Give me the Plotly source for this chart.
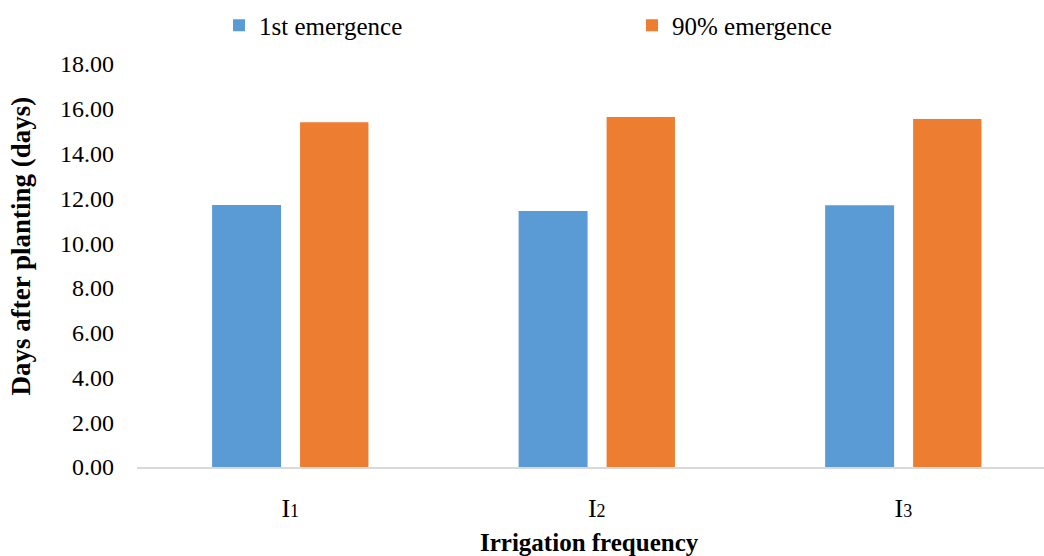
import plotly.graph_objects as go

# Emergence timing per irrigation frequency
categories = ["I1", "I2", "I3"]
tick_text = [
    "I<span style='font-size:18px'>1</span>",
    "I<span style='font-size:18px'>2</span>",
    "I<span style='font-size:18px'>3</span>",
]
first_emergence = [11.70, 11.43, 11.69]
ninety_emergence = [15.40, 15.63, 15.54]
y_ticks = [0, 2, 4, 6, 8, 10, 12, 14, 16, 18]

BLUE = "#5B9BD5"
ORANGE = "#ED7D31"
FONT = "'Liberation Serif', 'Times New Roman', serif"

W, H = 1044, 556
L, R, T, B = 137, 0, 64, 89
plot_w = W - L - R
plot_h = H - T - B

fig = go.Figure()
fig.add_trace(go.Bar(
    name="1st emergence", x=categories, y=first_emergence,
    marker=dict(color=BLUE, line=dict(width=0)),
    width=0.225, offset=-0.255,
))
fig.add_trace(go.Bar(
    name="90% emergence", x=categories, y=ninety_emergence,
    marker=dict(color=ORANGE, line=dict(width=0)),
    width=0.223, offset=0.032,
))

fig.update_layout(
    width=W, height=H,
    margin=dict(l=L, r=R, t=T, b=B, autoexpand=False),
    paper_bgcolor="white", plot_bgcolor="white",
    barmode="group",
    font=dict(family=FONT, color="black", size=24),
    showlegend=True,
    legend=dict(
        orientation="h", x=(219 - L) / plot_w, xanchor="left",
        y=(H - B - 25.5) / plot_h, yanchor="middle",
        font=dict(family=FONT, size=25, color="black"),
        entrywidth=368, entrywidthmode="pixels",
        itemwidth=30, bgcolor="rgba(0,0,0,0)",
    ),
    xaxis=dict(
        type="category", range=[-0.5, 2.459],
        tickmode="array", tickvals=categories, ticktext=tick_text,
        tickfont=dict(family=FONT, size=26, color="black"),
        showline=True, linecolor="#D9D9D9", linewidth=1.5,
        showgrid=False, ticks="", ticklabelstandoff=17,
        zeroline=False,
    ),
    yaxis=dict(
        range=[0, 18], tickvals=y_ticks,
        ticktext=[f"{v:.2f}" for v in y_ticks],
        tickfont=dict(family=FONT, size=24, color="black"),
        showline=False, showgrid=False, zeroline=False,
        ticks="", ticklabelstandoff=22,
    ),
    annotations=[
        dict(
            text="<b>Days after planting (days)</b>", textangle=-90,
            xref="paper", yref="paper",
            x=(20.5 - L) / plot_w, y=(H - B - 246) / plot_h,
            xanchor="center", yanchor="middle", showarrow=False,
            font=dict(family=FONT, size=27, color="black"),
        ),
        dict(
            text="<b>Irrigation frequency</b>",
            xref="paper", yref="paper",
            x=(589 - L) / plot_w, y=(H - B - 542) / plot_h,
            xanchor="center", yanchor="middle", showarrow=False,
            font=dict(family=FONT, size=25, color="black"),
        ),
    ],
)

fig.write_html("out.html")
